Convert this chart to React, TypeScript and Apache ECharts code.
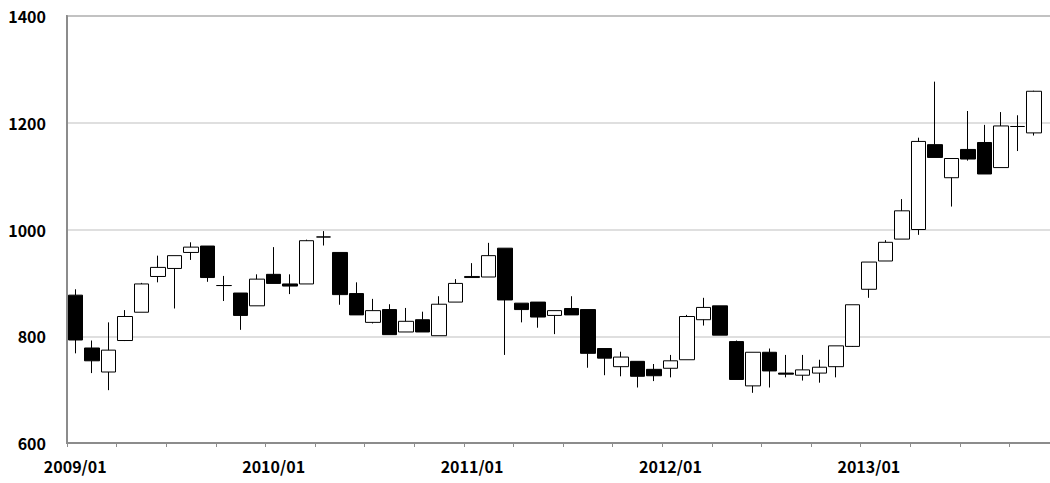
import React, { useEffect, useRef } from "react";
import * as echarts from "echarts";

const years = ["2009", "2010", "2011", "2012", "2013"];
const months = ["01", "02", "03", "04", "05", "06", "07", "08", "09", "10", "11", "12"];
const categories: string[] = [];
years.forEach((y) => months.forEach((m) => categories.push(`${y}/${m}`)));

const openValues = [
  877, 778, 733, 792, 845, 912, 927, 957, 969, 895, 881, 857,
  916, 898, 898, 986, 957, 880, 826, 850, 808, 831, 801, 864,
  910, 911, 965, 862, 864, 839, 852, 850, 777, 743, 753, 738,
  740, 756, 831, 857, 790, 707, 770, 731, 727, 731, 743, 781,
  888, 941, 982, 1000, 1159, 1097, 1150, 1163, 1116, 1193, 1181,
];
const closeValues = [
  793, 754, 774, 837, 898, 929, 951, 967, 910, 895, 839, 907,
  899, 894, 979, 986, 878, 840, 848, 803, 828, 808, 860, 899,
  912, 951, 868, 850, 836, 848, 840, 768, 759, 761, 725, 726,
  754, 837, 854, 802, 719, 770, 735, 729, 737, 742, 782, 859,
  939, 976, 1035, 1165, 1135, 1133, 1132, 1104, 1194, 1193, 1259,
];
const lowValues = [
  768, 731, 699, 791, 845, 901, 852, 943, 902, 866, 812, 857,
  899, 879, 898, 970, 859, 840, 824, 803, 808, 808, 801, 864,
  910, 911, 765, 826, 816, 804, 840, 741, 727, 725, 704, 716,
  723, 756, 820, 802, 719, 694, 704, 723, 717, 713, 723, 780,
  872, 941, 982, 990, 1135, 1043, 1129, 1104, 1116, 1147, 1176,
];
const highValues = [
  888, 792, 826, 849, 900, 951, 951, 976, 969, 913, 881, 916,
  967, 916, 981, 997, 957, 901, 870, 860, 853, 846, 875, 907,
  937, 975, 965, 862, 864, 848, 875, 850, 777, 771, 753, 748,
  765, 840, 872, 857, 792, 770, 777, 765, 765, 756, 782, 859,
  939, 980, 1057, 1172, 1277, 1133, 1222, 1196, 1220, 1214, 1260,
];

const yTicks = { min: 600, max: 1400, interval: 200 };

export default function App() {
  const ref = useRef<HTMLDivElement>(null);
  useEffect(() => {
    if (!ref.current) return;
    const chart = echarts.init(ref.current, undefined, { renderer: "svg" });
    const data = categories.map((_, i) =>
      i < openValues.length
        ? [openValues[i], closeValues[i], lowValues[i], highValues[i]]
        : "-"
    );
    const font = '"Noto Sans CJK JP", "Noto Sans", sans-serif';
    chart.setOption({
      animation: false,
      backgroundColor: "#ffffff",
      grid: {
        left: 67,
        right: 0,
        top: 16,
        bottom: 40,
        show: true,
        borderColor: "#8c8c8c",
        borderWidth: 2,
        backgroundColor: "transparent",
      },
      xAxis: {
        type: "category",
        data: categories,
        boundaryGap: true,
        axisLine: { show: true, lineStyle: { color: "#8c8c8c", width: 2 } },
        axisTick: {
          show: true,
          interval: 2,
          alignWithLabel: false,
          length: 4,
          lineStyle: { color: "#8c8c8c", width: 1 },
        },
        axisLabel: {
          interval: 11,
          margin: 15,
          color: "#000",
          fontFamily: font,
          fontWeight: "bold",
          fontSize: 16,
        },
        splitLine: { show: false },
      },
      yAxis: {
        type: "value",
        min: yTicks.min,
        max: yTicks.max,
        interval: yTicks.interval,
        axisLine: { show: true, lineStyle: { color: "#8c8c8c", width: 2 } },
        axisTick: { show: false },
        axisLabel: {
          margin: 21,
          color: "#000",
          fontFamily: font,
          fontWeight: "bold",
          fontSize: 16,
          formatter: (v: number) => String(v),
        },
        splitLine: { show: true, lineStyle: { color: "#d4d4d4", width: 1.5 } },
      },
      series: [
        {
          type: "candlestick",
          data,
          barWidth: 15,
          itemStyle: {
            color: "#ffffff",
            color0: "#000000",
            borderColor: "#000000",
            borderColor0: "#000000",
            borderWidth: 1,
          },
        },
      ],
    });
    return () => chart.dispose();
  }, []);
  return (
    <div
      style={{
        position: "fixed",
        left: 0,
        top: 0,
        width: 1050,
        height: 483,
        overflow: "hidden",
        background: "#fff",
      }}
    >
      <div ref={ref} style={{ width: 1059, height: 483 }} />
    </div>
  );
}
